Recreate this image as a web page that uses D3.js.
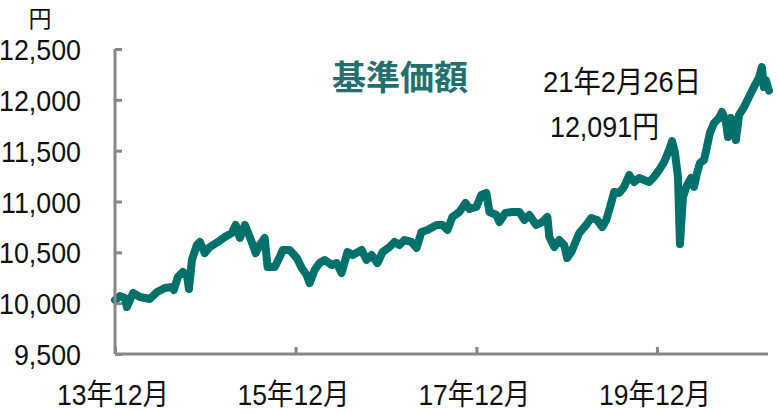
<!DOCTYPE html>
<html><head><meta charset="utf-8">
<script src="https://cdn.jsdelivr.net/npm/d3@7"></script>
<style>body{margin:0;background:#fff}svg{display:block}</style>
</head><body>
<script>
const dates = ["2013-12-01","2013-12-21","2014-01-10","2014-01-18","2014-02-12","2014-03-12","2014-04-21","2014-05-20","2014-06-21","2014-07-19","2014-07-27","2014-08-12","2014-09-01","2014-09-18","2014-09-26","2014-10-08","2014-10-28","2014-11-09","2014-11-29","2014-12-19","2015-01-21","2015-02-18","2015-03-18","2015-04-03","2015-04-20","2015-05-10","2015-05-30","2015-06-23","2015-07-09","2015-07-29","2015-08-10","2015-09-08","2015-09-28","2015-10-10","2015-11-07","2015-12-06","2015-12-26","2016-01-15","2016-01-27","2016-02-16","2016-03-07","2016-03-28","2016-04-25","2016-05-15","2016-06-04","2016-06-28","2016-07-19","2016-08-24","2016-09-13","2016-10-03","2016-10-27","2016-11-17","2016-12-15","2017-01-04","2017-01-24","2017-02-13","2017-03-14","2017-04-03","2017-04-23","2017-05-17","2017-06-23","2017-07-17","2017-08-06","2017-08-26","2017-09-23","2017-10-18","2017-11-03","2017-12-01","2017-12-21","2018-01-10","2018-01-23","2018-02-20","2018-03-04","2018-03-28","2018-04-25","2018-05-24","2018-06-13","2018-07-03","2018-07-31","2018-08-24","2018-09-14","2018-09-22","2018-10-12","2018-11-01","2018-11-21","2018-12-03","2018-12-20","2019-01-09","2019-01-21","2019-02-18","2019-03-10","2019-04-03","2019-04-24","2019-05-10","2019-05-30","2019-06-11","2019-07-01","2019-07-21","2019-08-11","2019-08-31","2019-09-20","2019-10-10","2019-10-30","2019-11-19","2019-12-10","2019-12-30","2020-01-19","2020-01-31","2020-02-12","2020-02-24","2020-03-03","2020-03-15","2020-04-01","2020-04-17","2020-04-29","2020-05-11","2020-05-23","2020-06-08","2020-06-20","2020-07-02","2020-07-19","2020-08-08","2020-08-20","2020-09-05","2020-09-13","2020-09-25","2020-10-07","2020-10-15","2020-10-28","2020-11-17","2020-12-07","2020-12-27","2021-01-16","2021-01-28","2021-02-05","2021-02-13","2021-02-26"];
const values = [10031,10070,10051,9962,10100,10061,10041,10110,10149,10159,10130,10257,10307,10277,10139,10425,10572,10602,10493,10552,10602,10651,10690,10769,10641,10769,10651,10493,10572,10641,10356,10356,10454,10523,10523,10444,10346,10277,10198,10326,10395,10425,10375,10395,10297,10503,10474,10523,10425,10474,10395,10503,10552,10602,10572,10621,10602,10543,10700,10720,10769,10769,10720,10848,10897,10985,10926,10946,11064,11084,10897,10867,10798,10887,10897,10897,10818,10867,10769,10798,10848,10651,10552,10621,10572,10444,10503,10621,10690,10769,10838,10818,10749,10818,10985,11094,11084,11143,11261,11192,11231,11211,11192,11241,11310,11389,11507,11595,11477,11241,10582,11044,11162,11231,11143,11280,11379,11408,11536,11674,11772,11821,11880,11782,11634,11821,11782,11605,11851,11929,12028,12126,12215,12323,12126,12195,12091];
const yTicks = [9500,10000,10500,11000,11500,12000,12500];
const xTickDates = ["2013-12-01","2015-12-01","2017-12-01","2019-12-01"];
const xTickLabels = ["13年12月","15年12月","17年12月","19年12月"];
const unitLabel = "円";
const title = "基準価額";
const noteDate = "21年2月26日";
const noteValue = "12,091円";

const W = 777, H = 413;
const parse = d3.timeParse("%Y-%m-%d");
const data = dates.map((d,i)=>({date:parse(d), value:values[i]}));
const svg = d3.select("body").append("svg").attr("width",W).attr("height",H);
const FONT = "'Liberation Sans', 'Noto Sans CJK JP', sans-serif";
const CJK = "'Noto Sans CJK JP', sans-serif";
const axisColor = "#878787";

const x = d3.scaleTime().domain([parse("2013-12-01"), parse("2021-02-26")]).range([115, 769]);
const y = d3.scaleLinear().domain([9500,12500]).range([354,49]);

// line
svg.append("path").datum(data)
  .attr("d", d3.line().x(d=>x(d.date)).y(d=>y(d.value)))
  .attr("fill","none").attr("stroke","#00706a").attr("stroke-width",8)
  .attr("stroke-linejoin","round").attr("stroke-linecap","round");

// axes
const yAxis = svg.append("g").attr("transform","translate(115,0)")
  .call(d3.axisRight(y).tickValues(yTicks).tickSize(7).tickFormat(""));
const xAxis = svg.append("g").attr("transform","translate(0,354)")
  .call(d3.axisTop(x).tickValues(xTickDates.map(parse)).tickSize(7).tickFormat(""));
[yAxis,xAxis].forEach(g=>{
  g.select(".domain").attr("stroke",axisColor).attr("stroke-width",3);
  g.selectAll(".tick line").attr("stroke",axisColor).attr("stroke-width",3);
});
yAxis.select(".domain").attr("d","M0,49V354");
xAxis.select(".domain").attr("d","M115,0H768");

function fitTo(sel, target){
  sel.attr("textLength", target).attr("lengthAdjust","spacingAndGlyphs");
}
const fmt = d3.format(",");
const yl = svg.append("g").selectAll("text").data(yTicks).join("text")
  .attr("x",81).attr("y",d=>y(d)+11).attr("text-anchor","end")
  .attr("font-family",FONT).attr("font-size",29).attr("fill","#111")
  .text(d=>fmt(d));
// uniform horizontal compression based on the widest label
let ref = 0; yl.each(function(){ ref = Math.max(ref, this.getComputedTextLength()); });
const fy = 82/ref;
yl.each(function(){ const w=this.getComputedTextLength(); d3.select(this).attr("textLength", w*fy).attr("lengthAdjust","spacingAndGlyphs"); });

const xl = svg.append("g").selectAll("text").data(xTickDates).join("text")
  .attr("x",d=>x(parse(d))-2).attr("y",405).attr("text-anchor","middle")
  .attr("font-family",FONT).attr("font-size",29).attr("fill","#111")
  .text((d,i)=>xTickLabels[i]);
fitTo(xl, 112);

svg.append("text").attr("x",40).attr("y",27).attr("text-anchor","middle")
  .attr("font-family",CJK).attr("font-size",23).attr("fill","#111").text(unitLabel);

svg.append("text").attr("x",332).attr("y",90)
  .attr("font-family",CJK).attr("font-size",34).attr("font-weight","bold").attr("fill","#23706f").text(title);

const n1 = svg.append("text").attr("x",543).attr("y",92)
  .attr("font-family",FONT).attr("font-size",30).attr("fill","#111").text(noteDate);
fitTo(n1, 158);
const n2 = svg.append("text").attr("x",550).attr("y",137)
  .attr("font-family",FONT).attr("font-size",30).attr("fill","#111").text(noteValue);
fitTo(n2, 109);
</script>
</body></html>
